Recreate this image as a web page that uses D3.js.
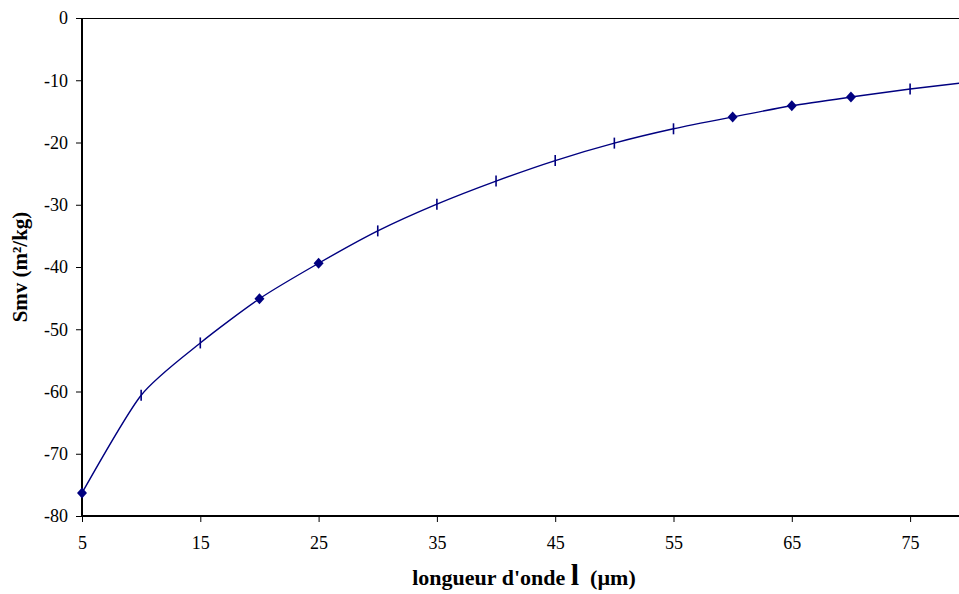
<!DOCTYPE html>
<html><head><meta charset="utf-8">
<script src="https://cdn.jsdelivr.net/npm/d3@7"></script>
<style>body{margin:0;background:#fff;} svg{display:block;} svg text{font-family:"Liberation Serif","Times New Roman",serif;}</style>
</head><body>
<script>
const wavelengths = [5,10,15,20,25,30,35,40,45,50,55,60,65,70,75,80];
const smvValues = [-76.3,-60.6,-52.2,-45.1,-39.4,-34.2,-29.9,-26.2,-22.9,-20.1,-17.8,-15.9,-14.1,-12.7,-11.4,-10.3];
const markerTypes = ["d","|","|","d","d","|","|","|","|","|","|","d","d","d","|","|"];
const xTicks = [5,15,25,35,45,55,65,75];
const yTicks = [0,-10,-20,-30,-40,-50,-60,-70,-80];

const W=959,H=594;
const svg=d3.select("body").append("svg").attr("width",W).attr("height",H);
const x=d3.scaleLinear().domain([5,80]).range([82,82+75*11.83]);
const y=d3.scaleLinear().domain([-80,0]).range([516,18]);
const font='"Liberation Serif","Times New Roman",serif';
const col="#000080";

svg.append("line").attr("x1",82).attr("x2",W).attr("y1",18.5).attr("y2",18.5).attr("stroke","#000").attr("stroke-width",1);

const ya=svg.append("g").attr("transform","translate(82,0)").call(d3.axisLeft(y).tickValues(yTicks).tickSize(6).tickPadding(8).tickFormat(d=>String(d)));
const xa=svg.append("g").attr("transform","translate(0,516)").call(d3.axisBottom(x).tickValues(xTicks).tickSize(6).tickPadding(14).tickFormat(d=>String(d)));
[ya,xa].forEach(a=>{
  a.attr("font-family",font).attr("font-size",18);
  a.selectAll("text").attr("font-family",font).attr("font-size",18).attr("fill","#000");
  a.selectAll("line").attr("stroke","#000");
  a.select(".domain").attr("stroke","#000").attr("stroke-width",2);
});
ya.select(".domain").attr("d","M0,18V517");
xa.select(".domain").attr("d","M82,0H"+W);

const pts=wavelengths.map((w,i)=>({w,v:smvValues[i],m:markerTypes[i]}));
const line=d3.line().x(d=>x(d.w)).y(d=>y(d.v)).curve(d3.curveCardinal.tension(0.3));
svg.append("path").datum(pts).attr("d",line).attr("fill","none").attr("stroke",col).attr("stroke-width",1.4);

svg.selectAll(".dm").data(pts.filter(d=>d.m==="d")).join("path")
  .attr("transform",d=>`translate(${x(d.w)},${y(d.v)})`)
  .attr("d","M0,-5.5L5,0L0,5.5L-5,0Z").attr("fill",col);
svg.selectAll(".bar").data(pts.filter(d=>d.m==="|")).join("line")
  .attr("x1",d=>x(d.w)).attr("x2",d=>x(d.w))
  .attr("y1",d=>y(d.v)-5.5).attr("y2",d=>y(d.v)+5.5)
  .attr("stroke",col).attr("stroke-width",1.6);

const xt=svg.append("text").attr("x",524).attr("y",585).attr("text-anchor","middle")
  .attr("font-family",font).attr("font-weight","bold").attr("font-size",22);
xt.append("tspan").text("longueur d'onde ");
xt.append("tspan").attr("font-size",30).text("l");
xt.append("tspan").style("white-space","pre").text("  (µm)");

svg.append("text").attr("transform","translate(27,267) rotate(-90)").attr("text-anchor","middle")
  .attr("font-family",font).attr("font-weight","bold").attr("font-size",21)
  .text("Smv (m²/kg)");
</script>
</body></html>
